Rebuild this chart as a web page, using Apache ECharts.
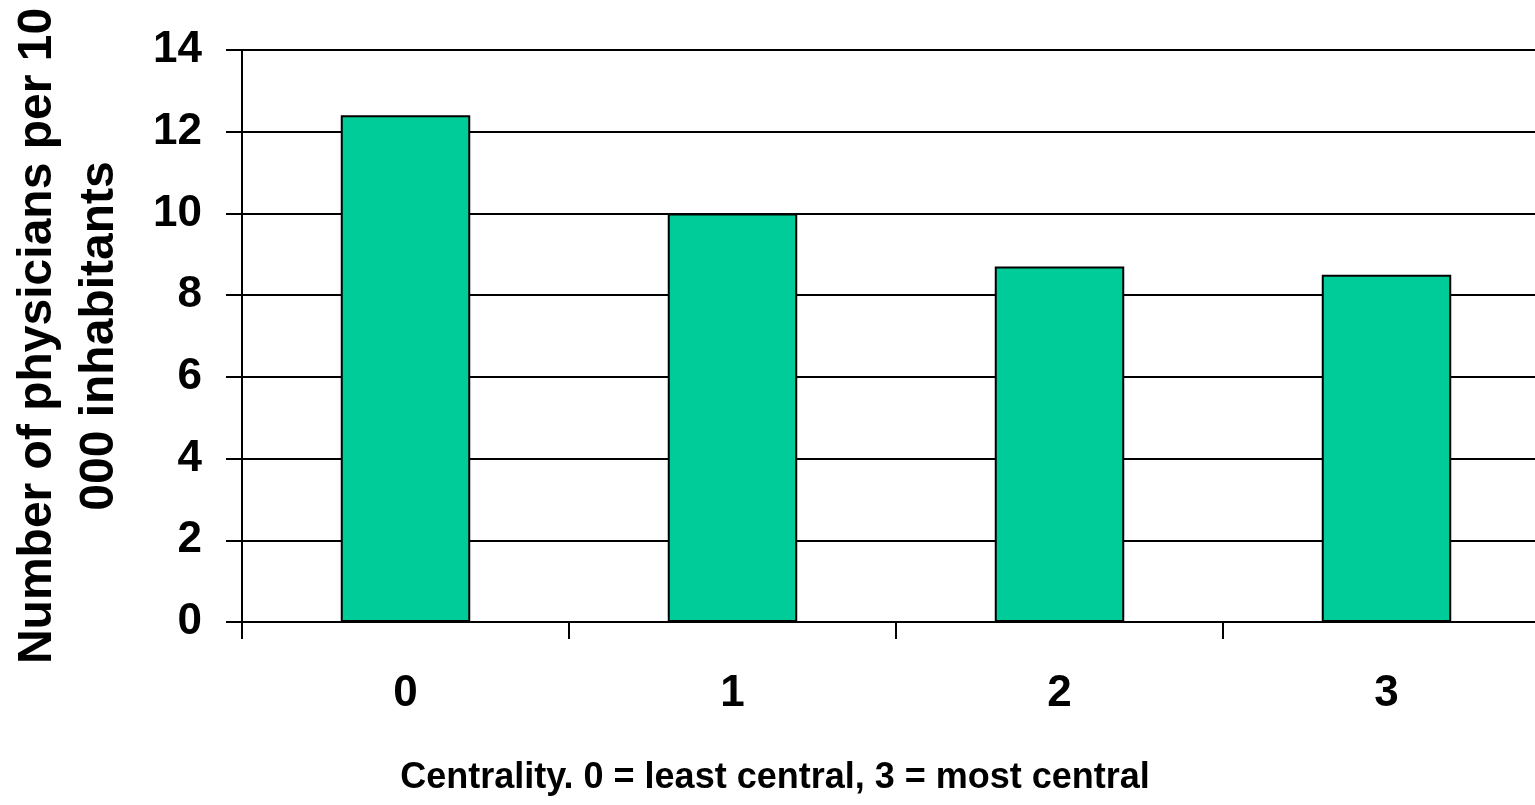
<!DOCTYPE html>
<html>
<head>
<meta charset="utf-8">
<script src="https://cdn.jsdelivr.net/npm/echarts@6/dist/echarts.min.js"></script>
<style>
html, body { margin: 0; padding: 0; background: #fff; }
#main { width: 1535px; height: 805px; }
</style>
</head>
<body>
<div id="main"></div>
<script>
var categories = ['0', '1', '2', '3'];
var physicians = [12.4, 10.0, 8.7, 8.5];
var yTicks = { min: 0, max: 14, interval: 2 };

var myChart = echarts.init(document.getElementById('main'));
var font = 'Liberation Sans, Arial, sans-serif';
option = {
    animation: false,
    backgroundColor: '#ffffff',
    grid: {
        left: 242,
        top: 50,
        right: -15,
        bottom: 183,
        containLabel: false,
        outerBoundsMode: 'none'
    },
    xAxis: {
        type: 'category',
        data: categories,
        name: 'Centrality. 0 = least central, 3 = most central',
        nameLocation: 'middle',
        nameGap: 138,
        nameTextStyle: {
            fontFamily: font,
            fontWeight: 'bold',
            fontSize: 36,
            color: '#000',
            // axis runs past the right edge; pull the title back to the visible centre
            padding: [0, 242, 0, 0]
        },
        axisLine: { lineStyle: { color: '#000', width: 2 } },
        axisTick: { show: true, length: 17, lineStyle: { color: '#000', width: 2 } },
        axisLabel: {
            margin: 50,
            fontFamily: font,
            fontWeight: 'bold',
            fontSize: 44,
            color: '#000'
        }
    },
    yAxis: {
        type: 'value',
        min: yTicks.min,
        max: yTicks.max,
        interval: yTicks.interval,
        name: 'Number of physicians per 10\n000 inhabitants',
        nameLocation: 'middle',
        nameRotate: 90,
        nameGap: 111,
        nameTextStyle: {
            fontFamily: font,
            fontWeight: 'bold',
            fontSize: 48,
            lineHeight: 62,
            color: '#000'
        },
        axisLine: { show: true, lineStyle: { color: '#000', width: 2 } },
        axisTick: { show: true, length: 16, lineStyle: { color: '#000', width: 2 } },
        axisLabel: {
            margin: 40,
            fontFamily: font,
            fontWeight: 'bold',
            fontSize: 44,
            color: '#000'
        },
        splitLine: { show: true, lineStyle: { color: '#000', width: 2 } }
    },
    series: [
        {
            type: 'bar',
            data: physicians,
            barWidth: '39.6%',
            itemStyle: {
                color: '#00CC99',
                borderColor: '#000',
                borderWidth: 2
            }
        }
    ]
};
myChart.setOption(option);
</script>
</body>
</html>
